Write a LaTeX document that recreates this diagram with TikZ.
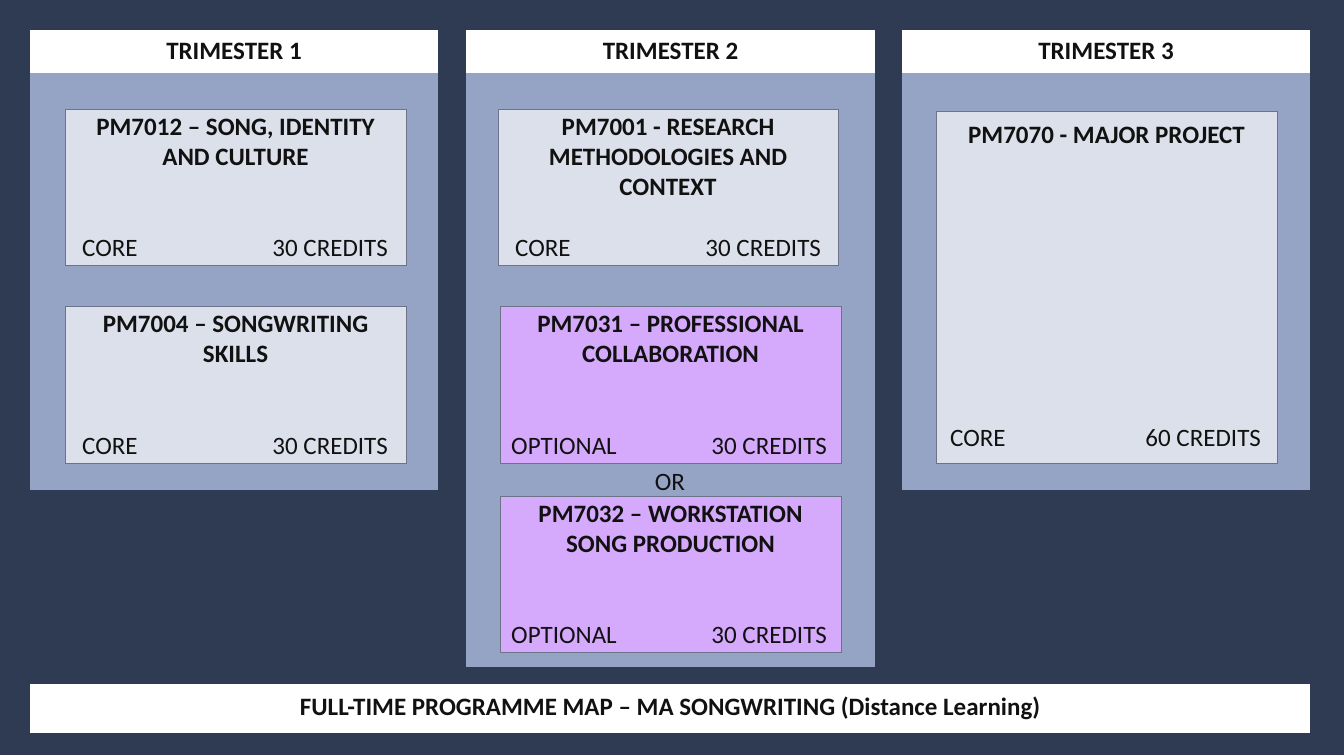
\documentclass[tikz,border=0pt]{standalone}
\usepackage{fontspec}
\setmainfont{Carlito}
\definecolor{bgc}{HTML}{2F3A53}
\definecolor{panelc}{HTML}{95A3C4}
\definecolor{modc}{HTML}{DCE0EB}
\definecolor{optc}{HTML}{D5A9FC}
\definecolor{edgec}{HTML}{6B7488}
\definecolor{inkc}{HTML}{111111}
\begin{document}
\begin{tikzpicture}[x=1pt,y=-1pt,
  sized/.style 2 args={minimum width=#1pt, minimum height=#2pt},
  block/.style={inner sep=0pt, outer sep=0pt, anchor=north west},
  header/.style={block, fill=white, text=inkc, font=\fontsize{25}{30}\selectfont\bfseries},
  panel/.style={block, fill=panelc},
  module/.style={block, fill=modc, draw=edgec, line width=1pt},
  optmodule/.style={module, fill=optc},
  title/.style={anchor=north, inner sep=0pt, align=center, text=inkc,
    font=\fontsize{25}{30}\selectfont\bfseries},
  lbl/.style={inner sep=0pt, text=inkc, font=\fontsize{25}{30}\selectfont}]
\fill[bgc] (0,0) rectangle (1344,755);
\useasboundingbox (0,0) rectangle (1344,755);

% trimester columns
\node[header, sized={408}{43}] (h1) at (30,30) {TRIMESTER 1};
\node[header, sized={409}{43}] (h2) at (466,30) {TRIMESTER 2};
\node[header, sized={408}{43}] (h3) at (902,30) {TRIMESTER 3};
\node[panel, sized={408}{417}] (p1) at (30,73) {};
\node[panel, sized={409}{594}] (p2) at (466,73) {};
\node[panel, sized={408}{417}] (p3) at (902,73) {};

% modules
\node[module, sized={341}{156}] (m12) at (65,109) {};
\node[module, sized={341}{157}] (m04) at (65,306) {};
\node[module, sized={340}{156}] (m01) at (498,109) {};
\node[optmodule, sized={341}{157}] (m31) at (500,306) {};
\node[optmodule, sized={341}{156}] (m32) at (500,496) {};
\node[module, sized={341}{352}] (m70) at (936,111) {};

% module titles
\node[title] (t12) at ([yshift=-10pt]m12.north) {PM7012 – SONG, IDENTITY\\AND CULTURE};
\node[title] (t04) at ([yshift=-10pt]m04.north) {PM7004 – SONGWRITING\\SKILLS};
\node[title] (t01) at ([yshift=-10pt]m01.north) {PM7001 - RESEARCH\\METHODOLOGIES AND\\CONTEXT};
\node[title] (t31) at ([yshift=-10pt]m31.north) {PM7031 – PROFESSIONAL\\COLLABORATION};
\node[title] (t32) at ([yshift=-10pt]m32.north) {PM7032 – WORKSTATION\\SONG PRODUCTION};
\node[title] (t70) at ([yshift=-16pt]m70.north) {PM7070 - MAJOR PROJECT};

% status and credits
\node[lbl, anchor=base west] (c12) at ([xshift=17pt,yshift=9pt]m12.south west) {CORE};
\node[lbl, anchor=base east] (k12) at ([xshift=-18pt,yshift=9pt]m12.south east) {30 CREDITS};
\node[lbl, anchor=base west] (c04) at ([xshift=17pt,yshift=9pt]m04.south west) {CORE};
\node[lbl, anchor=base east] (k04) at ([xshift=-18pt,yshift=9pt]m04.south east) {30 CREDITS};
\node[lbl, anchor=base west] (c01) at ([xshift=17pt,yshift=9pt]m01.south west) {CORE};
\node[lbl, anchor=base east] (k01) at ([xshift=-17pt,yshift=9pt]m01.south east) {30 CREDITS};
\node[lbl, anchor=base west] (c31) at ([xshift=11pt,yshift=9pt]m31.south west) {OPTIONAL};
\node[lbl, anchor=base east] (k31) at ([xshift=-14pt,yshift=9pt]m31.south east) {30 CREDITS};
\node[lbl, anchor=base west] (c32) at ([xshift=11pt,yshift=9pt]m32.south west) {OPTIONAL};
\node[lbl, anchor=base east] (k32) at ([xshift=-14pt,yshift=9pt]m32.south east) {30 CREDITS};
\node[lbl, anchor=base west] (c70) at ([xshift=14pt,yshift=17pt]m70.south west) {CORE};
\node[lbl, anchor=base east] (k70) at ([xshift=-16pt,yshift=17pt]m70.south east) {60 CREDITS};

\node[lbl] (or) at (670,482) {OR};

% programme caption
\node[header, sized={1280}{49}] (cap) at (30,684)
  {FULL-TIME PROGRAMME MAP – MA SONGWRITING (Distance Learning)};
\end{tikzpicture}
\end{document}
